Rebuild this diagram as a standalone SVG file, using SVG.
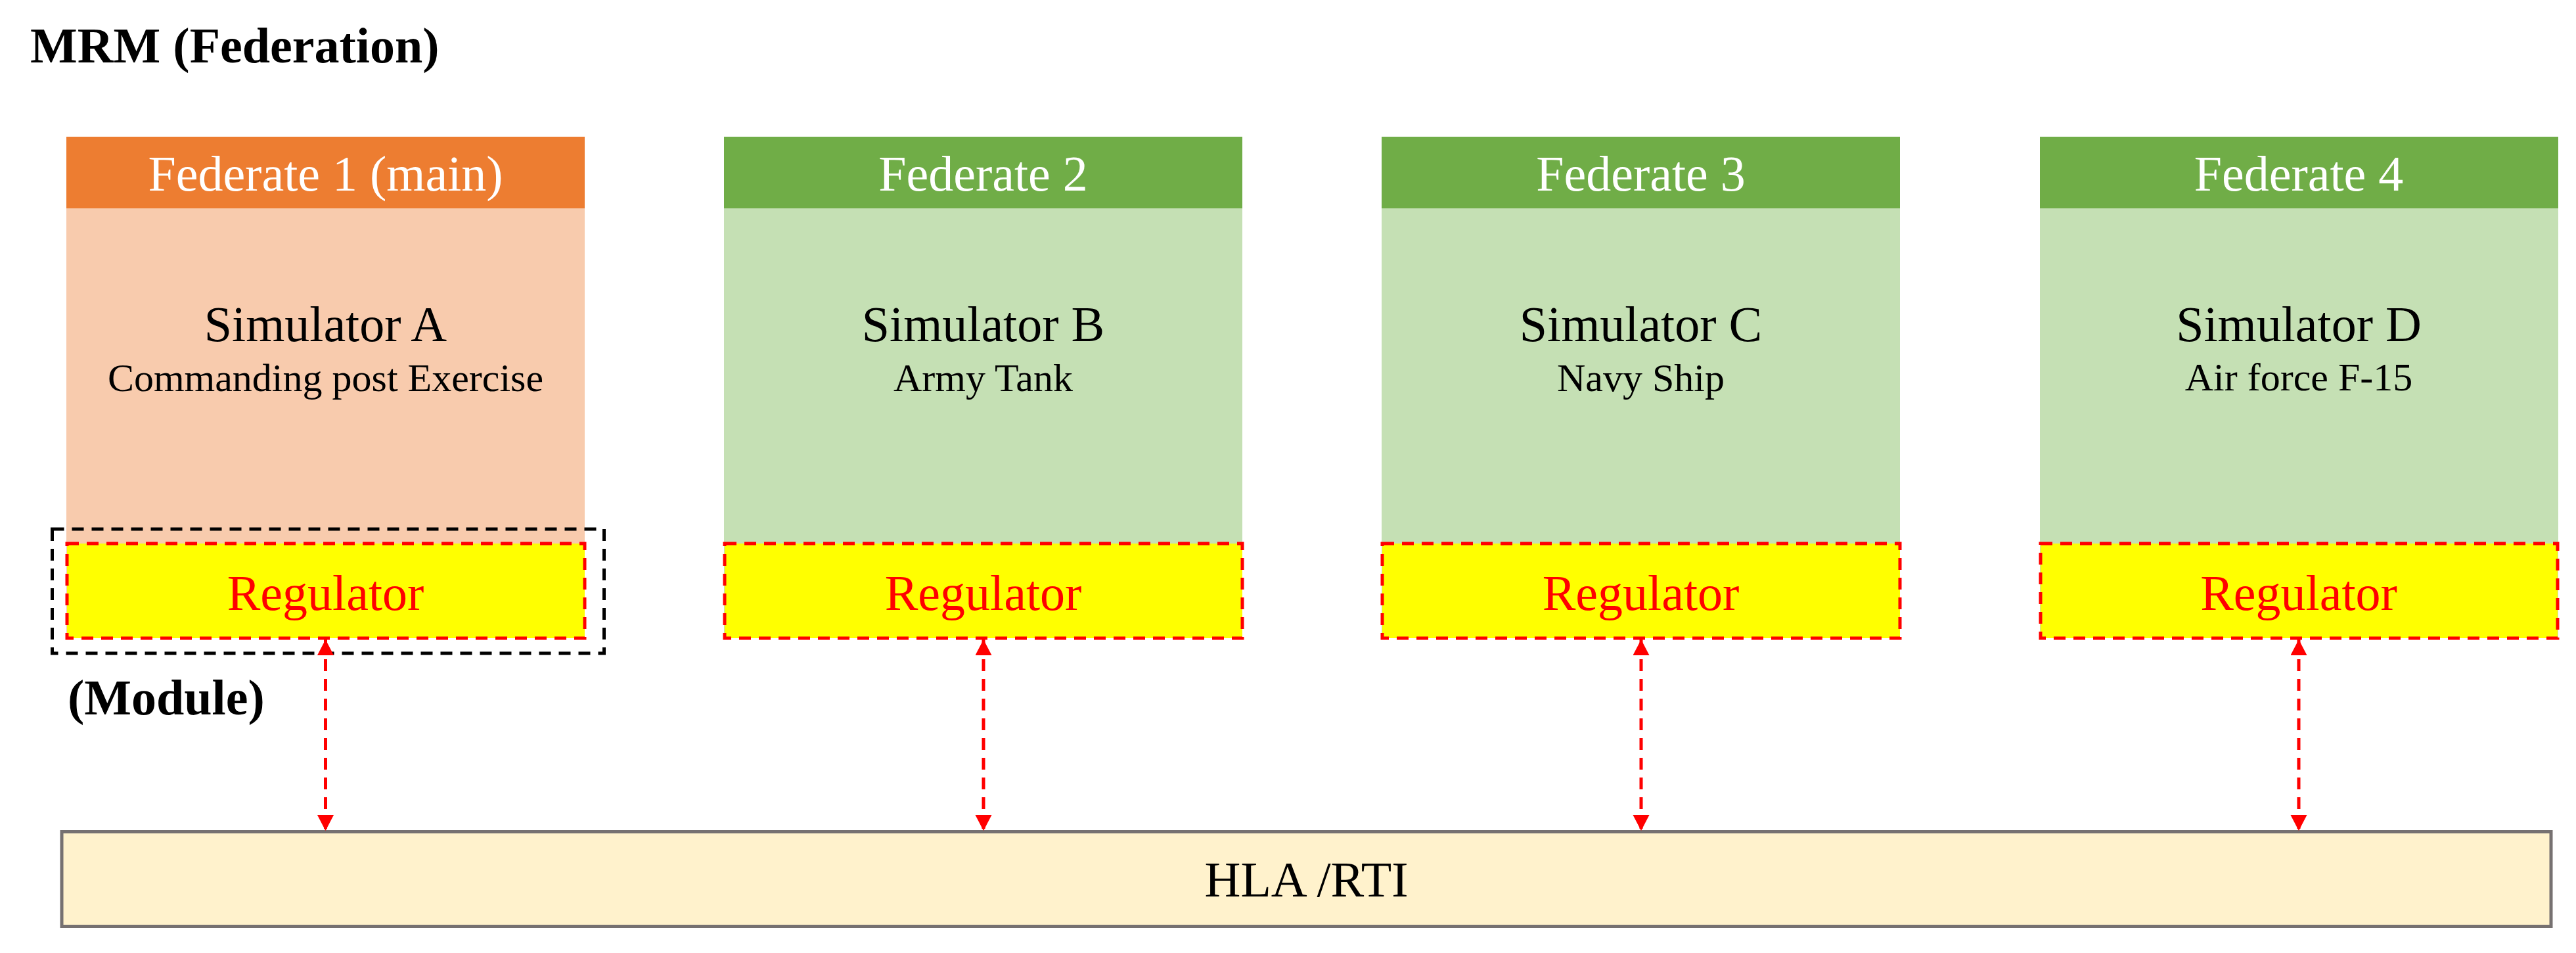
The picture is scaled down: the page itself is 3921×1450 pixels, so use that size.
<svg xmlns="http://www.w3.org/2000/svg" width="3921" height="1450" viewBox="0 0 3921 1450">
<style>
text{font-family:"Liberation Serif","Times New Roman",serif;text-anchor:middle}
.t76{font-size:76px}
.sub{font-size:60px;fill:#000}
.bold{font-weight:bold;text-anchor:start;fill:#000}
.hdr{fill:#fff}
.hdr1{fill:#ED7D31}
.hdrg{fill:#70AD47}
.body1{fill:#F8CBAD}
.bodyg{fill:#C5E0B4}
.reg{fill:#FFFF00;stroke:#FF0000;stroke-width:5;stroke-dasharray:18 12}
.regt{fill:#FF0000}
.conn{stroke:#FF0000;stroke-width:5;stroke-dasharray:18 12;fill:none}
</style>
<defs>
<marker id="ah" markerUnits="userSpaceOnUse" markerWidth="26" markerHeight="26" refX="24" refY="12.5" orient="auto-start-reverse">
<path d="M0,0 L24,12.5 L0,25 z" fill="#FF0000"/>
</marker>
</defs>
<rect width="3921" height="1450" fill="#fff"/>
<text id="title" class="t76 bold" x="46" y="95">MRM (Federation)</text>

<g id="fed1">
<rect class="body1" x="101" y="208" width="789" height="763"/>
<rect class="hdr1" x="101" y="208" width="789" height="109"/>
<text class="t76 hdr" x="495.5" y="290">Federate 1 (main)</text>
<text class="t76" x="495.5" y="519">Simulator A</text>
<text class="sub" x="495.5" y="595">Commanding post Exercise</text>
</g>
<g id="reg1">
<rect class="reg" x="102" y="827" width="788" height="144"/>
<text class="t76 regt" x="495.5" y="928">Regulator</text>
</g>
<g id="module">
<rect x="79.5" y="805" width="840" height="189" fill="none" stroke="#000" stroke-width="5" stroke-dasharray="18 12"/>
<text class="t76 bold" x="103" y="1087">(Module)</text>
</g>

<g id="fed2">
<rect class="bodyg" x="1102" y="208" width="789" height="763"/>
<rect class="hdrg" x="1102" y="208" width="789" height="109"/>
<text class="t76 hdr" x="1496.5" y="290">Federate 2</text>
<text class="t76" x="1496.5" y="519">Simulator B</text>
<text class="sub" x="1496.5" y="595">Army Tank</text>
</g>
<g id="reg2">
<rect class="reg" x="1103" y="827" width="788" height="144"/>
<text class="t76 regt" x="1496.5" y="928">Regulator</text>
</g>

<g id="fed3">
<rect class="bodyg" x="2103" y="208" width="789" height="763"/>
<rect class="hdrg" x="2103" y="208" width="789" height="109"/>
<text class="t76 hdr" x="2497.5" y="290">Federate 3</text>
<text class="t76" x="2497.5" y="519">Simulator C</text>
<text class="sub" x="2497.5" y="595">Navy Ship</text>
</g>
<g id="reg3">
<rect class="reg" x="2104" y="827" width="788" height="144"/>
<text class="t76 regt" x="2497.5" y="928">Regulator</text>
</g>

<g id="fed4">
<rect class="bodyg" x="3105" y="208" width="789" height="763"/>
<rect class="hdrg" x="3105" y="208" width="789" height="109"/>
<text class="t76 hdr" x="3499" y="290">Federate 4</text>
<text class="t76" x="3499" y="519">Simulator D</text>
<text class="sub" x="3499" y="594">Air force F-15</text>
</g>
<g id="reg4">
<rect class="reg" x="3106" y="827" width="787" height="144"/>
<text class="t76 regt" x="3499" y="928">Regulator</text>
</g>

<g id="hla">
<rect x="94" y="1265.5" width="3789" height="144" fill="#FFF2CC" stroke="#767171" stroke-width="5"/>
<text class="t76" x="1988.5" y="1364">HLA /RTI</text>
</g>

<g id="connectors">
<line class="conn" x1="495.5" y1="973" x2="495.5" y2="1264" marker-start="url(#ah)" marker-end="url(#ah)"/>
<line class="conn" x1="1497" y1="973" x2="1497" y2="1264" marker-start="url(#ah)" marker-end="url(#ah)"/>
<line class="conn" x1="2498" y1="973" x2="2498" y2="1264" marker-start="url(#ah)" marker-end="url(#ah)"/>
<line class="conn" x1="3499" y1="973" x2="3499" y2="1264" marker-start="url(#ah)" marker-end="url(#ah)"/>
</g>
</svg>
